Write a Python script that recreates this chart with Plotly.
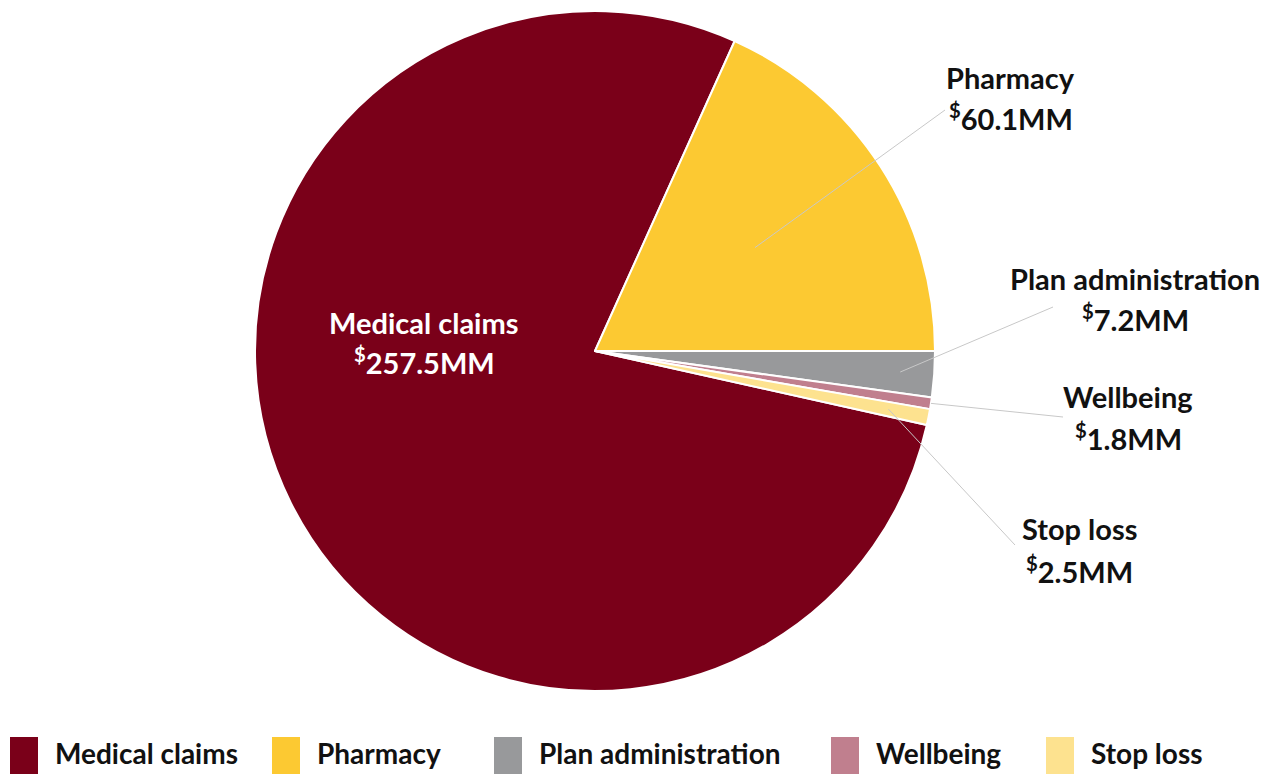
import math
import plotly.graph_objects as go

# Plan spending breakdown (millions of dollars)
categories = ["Medical claims", "Pharmacy", "Plan administration", "Wellbeing", "Stop loss"]
values = [257.5, 60.1, 7.2, 1.8, 2.5]
value_labels = ["257.5MM", "60.1MM", "7.2MM", "1.8MM", "2.5MM"]
colors = ["#7a0019", "#fcc932", "#98999b", "#c07f8e", "#fde28f"]

W, H = 1277, 774
FONT = "Lato"
CX, CY, R = 595, 351, 340  # pie centre / radius in pixels

total = sum(values)
# Pharmacy slice ends exactly at 3 o'clock
rotation = 90 - (values[0] + values[1]) / total * 360 + 360

fig = go.Figure(
    go.Pie(
        labels=categories,
        values=values,
        marker=dict(colors=colors, line=dict(color="white", width=2)),
        sort=False,
        direction="clockwise",
        rotation=rotation,
        textinfo="none",
        hoverinfo="label+value",
        showlegend=False,
        domain=dict(x=[(CX - R) / W, (CX + R) / W], y=[1 - (CY + R) / H, 1 - (CY - R) / H]),
    )
)


def px(x, y):
    return x / W, 1 - y / H


def slice_point(i, frac_r):
    start = rotation + sum(values[:i]) / total * 360
    mid = start + values[i] / total * 180
    phi = math.radians(90 - mid)
    return px(CX + frac_r * R * math.cos(phi), CY - frac_r * R * math.sin(phi))


annotations = []
shapes = []


def text(x, y, s, size, color, xanchor="center"):
    ax, ay = px(x, y)
    annotations.append(dict(x=ax, y=ay, xref="paper", yref="paper", text=s, showarrow=False,
                            xanchor=xanchor, yanchor="middle",
                            font=dict(family=FONT, size=size, color=color, weight="bold")))


def label(name, val, x, y_name, y_val, color="#111111"):
    text(x, y_name, name, 29, color)
    text(x, y_val, "<sup>$</sup>" + val, 29, color)


# Medical claims label sits inside its slice
label(categories[0], value_labels[0], 424, 322, 361, color="white")

# Outside labels with leader lines: (slice index, label centre x, name y, value y, radius fraction, line end)
outside = [
    (1, 1011, 78, 117, 0.56, (945, 110)),
    (2, 1135, 278, 318, 0.90, (1053, 307)),
    (3, 1128, 397, 437, 1.00, (1063, 417)),
    (4, 1079, 528, 570, 0.88, (1015, 545)),
]
for i, x, yn, yv, fr, end in outside:
    label(categories[i], value_labels[i], x, yn, yv)
    x0, y0 = slice_point(i, fr)
    x1, y1 = px(*end)
    shapes.append(dict(type="line", xref="paper", yref="paper", x0=x0, y0=y0, x1=x1, y1=y1,
                       line=dict(color="#c8c8c8", width=1)))

# Legend row along the bottom
legend_x = [10, 272, 494, 831, 1046]
for i, lx in enumerate(legend_x):
    x0, y0 = px(lx, 774)
    x1, y1 = px(lx + 28, 737)
    shapes.append(dict(type="rect", xref="paper", yref="paper", x0=x0, y0=y0, x1=x1, y1=y1,
                       fillcolor=colors[i], line=dict(width=0)))
    text(lx + 43, 753, categories[i], 28, "#111111", xanchor="left")

fig.update_layout(
    width=W,
    height=H,
    margin=dict(l=0, r=0, t=0, b=0),
    paper_bgcolor="white",
    plot_bgcolor="white",
    annotations=annotations,
    shapes=shapes,
)

fig.write_html("out.html")
